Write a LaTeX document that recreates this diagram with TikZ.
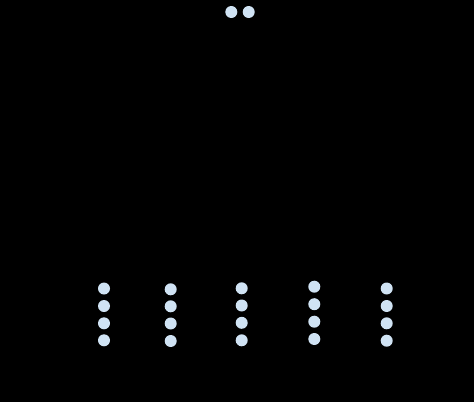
\documentclass[tikz,border=0pt]{standalone}
\definecolor{dotblue}{HTML}{D0E3F4}
\tikzset{
  dot/.style={circle, fill=dotblue, draw=none, minimum size=12pt, inner sep=0pt}
}
\begin{document}
\begin{tikzpicture}[x=1pt,y=-1pt]
\fill[black] (0,0) rectangle (474,402);
\useasboundingbox (0,0) rectangle (474,402);
% top pair
\node[dot] (t1) at (231.3,12) {};
\node[dot] (t2) at (248.7,12) {};
% column 1
\node[dot] (a1) at (104,288.5) {};
\node[dot] (a2) at (104,306) {};
\node[dot] (a3) at (104,323.3) {};
\node[dot] (a4) at (104,340.3) {};
% column 2
\node[dot] (b1) at (170.7,289.3) {};
\node[dot] (b2) at (170.7,306.3) {};
\node[dot] (b3) at (170.7,323.5) {};
\node[dot] (b4) at (170.7,341) {};
% column 3
\node[dot] (c1) at (241.7,288.3) {};
\node[dot] (c2) at (241.7,305.5) {};
\node[dot] (c3) at (241.7,322.8) {};
\node[dot] (c4) at (241.7,340.3) {};
% column 4
\node[dot] (d1) at (314.3,286.7) {};
\node[dot] (d2) at (314.3,304.2) {};
\node[dot] (d3) at (314.3,321.7) {};
\node[dot] (d4) at (314.3,339) {};
% column 5
\node[dot] (e1) at (386.7,288.5) {};
\node[dot] (e2) at (386.7,306) {};
\node[dot] (e3) at (386.7,323.3) {};
\node[dot] (e4) at (386.7,340.7) {};
\end{tikzpicture}
\end{document}
